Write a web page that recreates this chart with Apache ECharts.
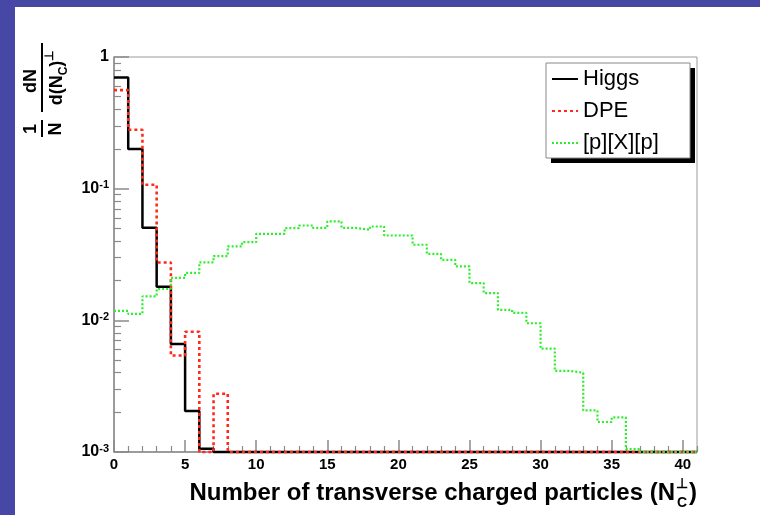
<!DOCTYPE html>
<html><head><meta charset="utf-8">
<script src="https://cdn.jsdelivr.net/npm/echarts@6/dist/echarts.min.js"></script>
<style>html,body{margin:0;padding:0;background:#fff}#c{width:760px;height:515px}</style>
</head><body><div id="c"></div>
<script>
// bin lower edges (last entry = upper edge of final bin)
const binEdges = [0,1,2,3,4,5,6,7,8,9,10,11,12,13,14,15,16,17,18,19,20,21,22,23,24,25,26,27,28,29,30,31,32,33,34,35,36,37,38,39,40,41];
// series values per bin (0.001 = at/below bottom of the plot)
const higgs = [0.70,0.20,0.0505,0.018,0.0066,0.00205,0.00106,0.001,0.001,0.001,
  0.001,0.001,0.001,0.001,0.001,0.001,0.001,0.001,0.001,0.001,
  0.001,0.001,0.001,0.001,0.001,0.001,0.001,0.001,0.001,0.001,
  0.001,0.001,0.001,0.001,0.001,0.001,0.001,0.001,0.001,0.001,0.001];
const dpe = [0.56,0.28,0.107,0.0275,0.0054,0.0082,0.001,0.00277,0.001,0.001,
  0.001,0.001,0.001,0.001,0.001,0.001,0.001,0.001,0.001,0.001,
  0.001,0.001,0.001,0.001,0.001,0.001,0.001,0.001,0.001,0.001,
  0.001,0.001,0.001,0.001,0.001,0.001,0.001,0.001,0.001,0.001,0.001];
const pxp = [0.0118,0.0112,0.0152,0.0173,0.0210,0.0229,0.0276,0.0307,0.0364,0.0392,
  0.0454,0.0454,0.0501,0.0525,0.0503,0.0564,0.0503,0.0487,0.0516,0.0441,
  0.0441,0.0375,0.0320,0.0288,0.0257,0.0192,0.0161,0.0120,0.0114,0.0095,
  0.0061,0.00413,0.0040,0.00207,0.00169,0.00183,0.00105,0.001,0.001,0.001,0.001];
const seriesNames = ['Higgs','DPE','[p][X][p]'];
const xMajorTicks = [0,5,10,15,20,25,30,35,40];
const xMinorTicks = [1,2,3,4,6,7,8,9,11,12,13,14,16,17,18,19,21,22,23,24,26,27,28,29,31,32,33,34,36,37,38,39,41];
const yMajorTicks = [0.001,0.01,0.1,1];
const yMinorTicks = [0.002,0.003,0.004,0.005,0.006,0.007,0.008,0.009,
  0.02,0.03,0.04,0.05,0.06,0.07,0.08,0.09,0.2,0.3,0.4,0.5,0.6,0.7,0.8,0.9];

function steps(vals){
  const d = vals.map((v,i)=>[binEdges[i], v]);
  d.push([binEdges[vals.length], vals[vals.length-1]]);
  return d;
}

const chart = echarts.init(document.getElementById('c'), null, {renderer:'canvas'});
const F = 'Liberation Sans, Arial, Helvetica, sans-serif';
const axisGray = '#8a8a8a';

const option = {
  animation:false,
  backgroundColor:'#ffffff',
  textStyle:{fontFamily:F},
  grid:{left:114, right:63, top:57, bottom:63, show:true, borderColor:'#9a9a9a', borderWidth:1, backgroundColor:'transparent'},
  legend:{
    orient:'vertical', left:551, top:68,
    data:seriesNames,
    itemWidth:26, itemHeight:14, itemGap:10,
    padding:0,
    itemStyle:{opacity:0},
    textStyle:{fontSize:22, lineHeight:22, color:'#000', fontFamily:F},
    selectedMode:false, z:10
  },
  xAxis:[{
    type:'value', min:0, max:41,
    axisLine:{show:true, lineStyle:{color:axisGray, width:1.5}},
    axisTick:{show:true, inside:true, length:12, customValues:xMajorTicks, lineStyle:{color:axisGray, width:1.5}},
    axisLabel:{customValues:xMajorTicks, fontSize:15, fontWeight:'bold', color:'#000', margin:5, fontFamily:F},
    splitLine:{show:false}
  },{
    type:'value', min:0, max:41, position:'bottom',
    axisLine:{show:false},
    axisTick:{show:true, inside:true, length:6, customValues:xMinorTicks, lineStyle:{color:axisGray, width:1.2}},
    axisLabel:{show:false},
    splitLine:{show:false}
  }],
  yAxis:[{
    type:'log', logBase:10, min:0.001, max:1,
    axisLine:{show:true, lineStyle:{color:axisGray, width:1.5}},
    axisTick:{show:true, inside:true, length:15, customValues:yMajorTicks, lineStyle:{color:axisGray, width:1.5}},
    axisLabel:{customValues:yMajorTicks, color:'#000', margin:5, fontFamily:F,
      formatter:function(v){ if (Math.abs(v-1)<1e-9) return '{b|1}'; return '{b|10}{s|' + Math.round(Math.log10(v)) + '}'; },
      rich:{
        b:{fontSize:16, fontWeight:'bold', color:'#000', fontFamily:F, lineHeight:18},
        s:{fontSize:11, fontWeight:'bold', color:'#000', fontFamily:F, verticalAlign:'top', lineHeight:11}
      }
    },
    splitLine:{show:false}
  },{
    type:'log', logBase:10, min:0.001, max:1, position:'left',
    axisLine:{show:false},
    axisTick:{show:true, inside:true, length:7, customValues:yMinorTicks, lineStyle:{color:axisGray, width:1.2}},
    axisLabel:{show:false},
    splitLine:{show:false}
  }],
  series:[
    {name:seriesNames[0], type:'line', step:'end', symbol:'none', clip:false,
     data:steps(higgs), lineStyle:{color:'#000000', width:2.5, type:'solid'}, itemStyle:{color:'#000'}},
    {name:seriesNames[1], type:'line', step:'end', symbol:'none', clip:false,
     data:steps(dpe), lineStyle:{color:'#ff2a1a', width:2.6, type:[3,3]}, itemStyle:{color:'#ff2a1a'}},
    {name:seriesNames[2], type:'line', step:'end', symbol:'none', clip:false,
     data:steps(pxp), lineStyle:{color:'#2cee2c', width:2.2, type:[2,2]}, itemStyle:{color:'#2cee2c'}}
  ],
  graphic:[
    {type:'rect', left:0, top:0, shape:{width:760, height:7}, style:{fill:'#4747a6'}, silent:true},
    {type:'rect', left:0, top:0, shape:{width:15, height:515}, style:{fill:'#4747a6'}, silent:true},
    // legend box with hard shadow
    {type:'rect', x:551, y:68, z:5, shape:{width:144, height:95}, style:{fill:'#000'}, silent:true},
    {type:'rect', x:546, y:63, z:6, shape:{width:144, height:95}, style:{fill:'#fff', stroke:'#888', lineWidth:1}, silent:true},
    // x-axis title
    {type:'text', x:675, y:493, style:{text:'Number of transverse charged particles (N', font:'bold 24px '+F, fill:'#000', align:'right', verticalAlign:'middle'}},
    {type:'text', x:682, y:484, style:{text:'\u22a5', font:'bold 14px '+F, fill:'#000', align:'center', verticalAlign:'middle'}},
    {type:'text', x:682, y:503, style:{text:'C', font:'bold 14px '+F, fill:'#000', align:'center', verticalAlign:'middle'}},
    {type:'text', x:689, y:493, style:{text:')', font:'bold 24px '+F, fill:'#000', align:'left', verticalAlign:'middle'}},
    // y-axis title (rotated)
    {type:'group', x:42, y:139, rotation:Math.PI/2, children:[
      {type:'text', x:10, y:-11, style:{text:'1', font:'bold 18px '+F, fill:'#000', align:'center', verticalAlign:'middle'}},
      {type:'line', shape:{x1:2, y1:0, x2:19, y2:0}, style:{stroke:'#000', lineWidth:2}},
      {type:'text', x:10, y:14, style:{text:'N', font:'bold 18px '+F, fill:'#000', align:'center', verticalAlign:'middle'}},
      {type:'text', x:58, y:-11, style:{text:'dN', font:'bold 18px '+F, fill:'#000', align:'center', verticalAlign:'middle'}},
      {type:'line', shape:{x1:27, y1:0, x2:96, y2:0}, style:{stroke:'#000', lineWidth:2}},
      {type:'text', x:61, y:15, style:{
        text:'{b|d(N}{sub|C}{b|)}{sup|\u22a5}',
        align:'center', verticalAlign:'middle',
        rich:{
          b:{font:'bold 18px '+F, fill:'#000', lineHeight:26},
          sub:{font:'bold 12px '+F, fill:'#000', verticalAlign:'bottom', lineHeight:12},
          sup:{font:'bold 12px '+F, fill:'#000', verticalAlign:'top', lineHeight:12}
        }
      }}
    ]}
  ]
};
chart.setOption(option);
</script>
</body></html>
